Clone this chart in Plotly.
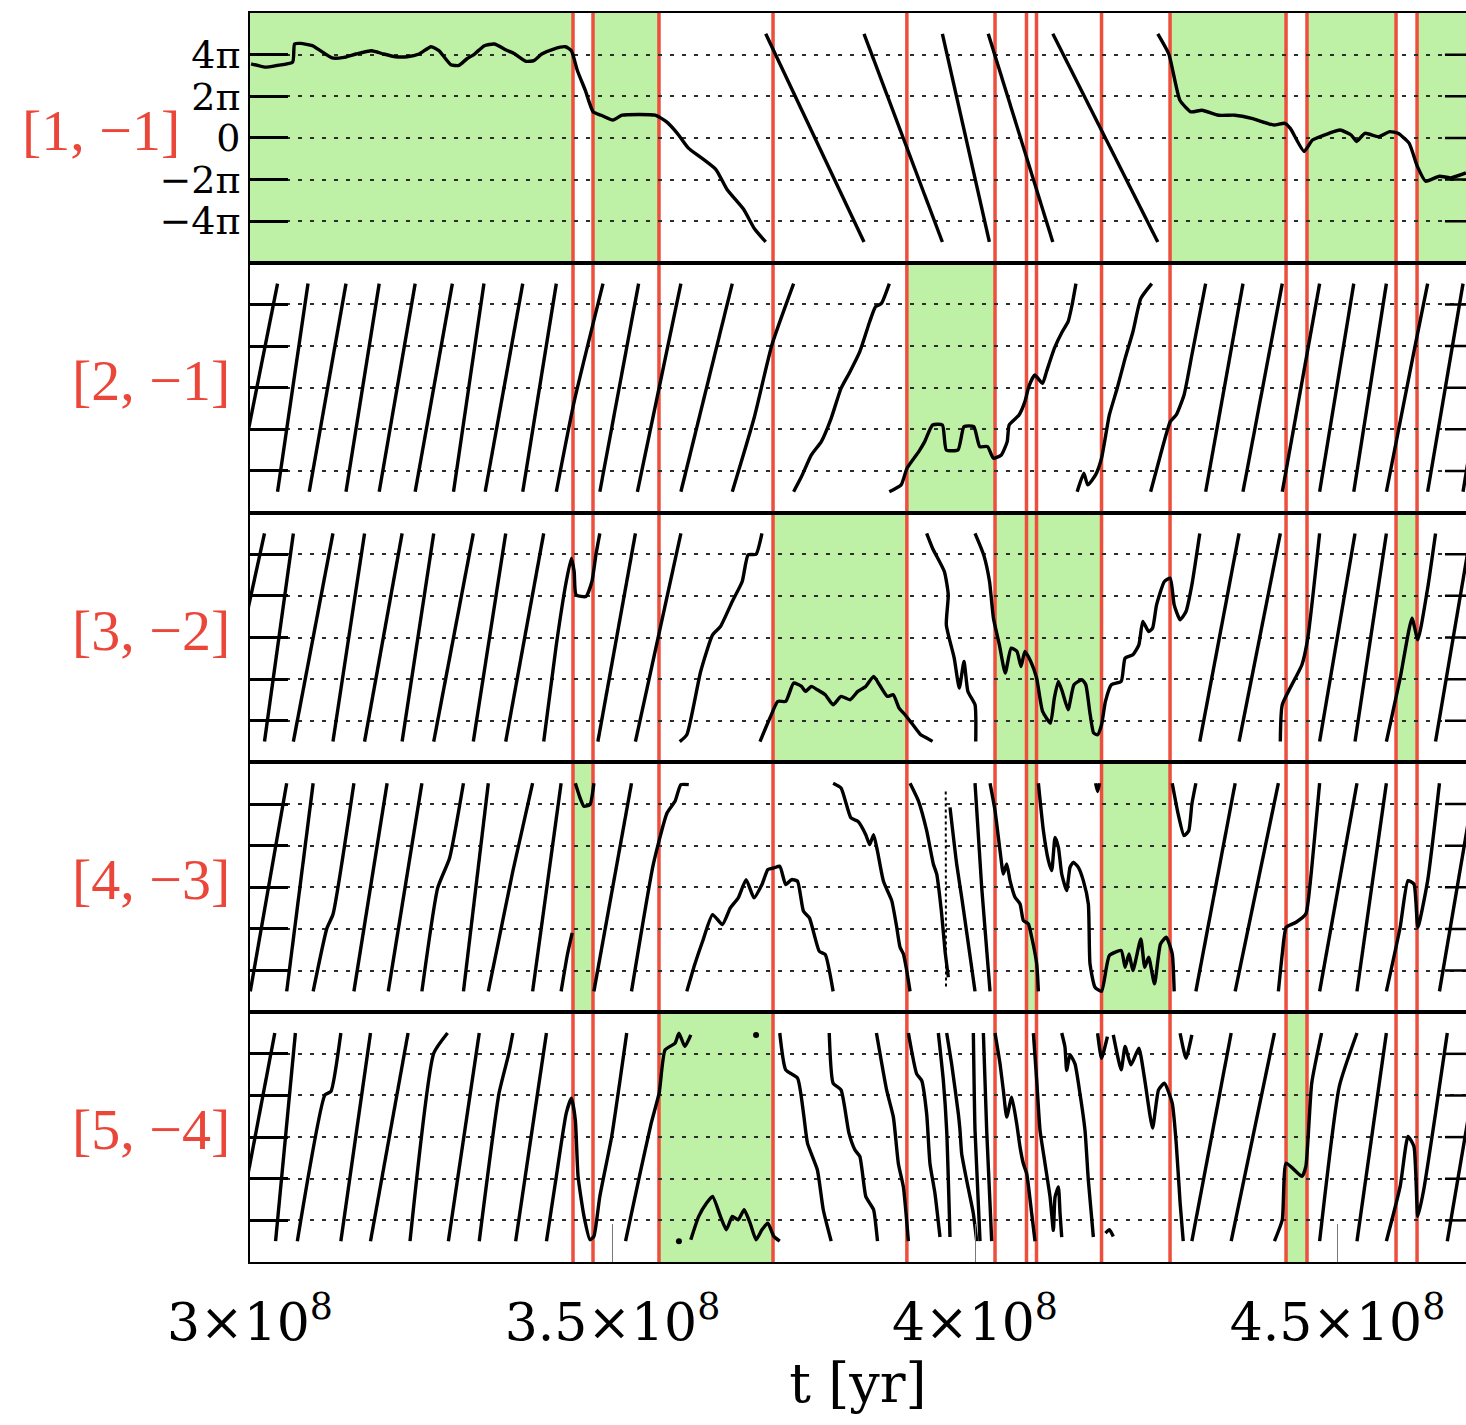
import plotly.graph_objects as go
from plotly.subplots import make_subplots

# ---------------- data (times in units of 1e8 yr, phases in units of pi) ----------------
T_UNIT = 1e8
WRAP = 5.0  # circulating phase is wrapped between -WRAP*pi and +WRAP*pi

X_RANGE = [3.0, 4.6772]
X_TICK_VALS = [3.0, 3.5, 4.0, 4.5]
X_TICK_TEXT = ["3×10<sup>8</sup>", "3.5×10<sup>8</sup>", "4×10<sup>8</sup>", "4.5×10<sup>8</sup>"]
Y_RANGE = [-6, 6]
Y_TICK_VALS = [-4, -2, 0, 2, 4]
Y_TICK_TEXT = ["−4π", "−2π", "0", "2π", "4π"]
PANEL_LABELS = ["[1, −1]", "[2, −1]", "[3, −2]", "[4, −3]", "[5, −4]"]

RED_LINES = [3.4455, 3.4731, 3.5641, 3.7214, 3.9060, 4.0276, 4.0710, 4.0848,
             4.1745, 4.2690, 4.4290, 4.4579, 4.5807, 4.6097]

GREEN_P1 = [(3.0, 3.4455), (3.4731, 3.5641), (4.2690, 4.4290), (4.4579, 4.5807), (4.6097, 4.70)]
GREEN_P2 = [(3.9060, 4.0276)]
GREEN_P3 = [(3.7214, 3.9060), (4.0276, 4.1745), (4.5807, 4.6097)]
GREEN_P4 = [(3.4455, 3.4731), (4.0710, 4.0848), (4.1745, 4.2690)]
GREEN_P5 = [(3.5641, 3.7214), (4.4290, 4.4579)]

# direction of the wrapped straight segments: -1 = descending, +1 = ascending
SAW_DIRECTION = [-1, 1, 1, 1, 1]

# ---- panel 1 : [1,-1]
P1_SAW = [(3.7113, 3.8469), (3.8469, 3.9550), (3.9550, 4.0198), (4.0182, 4.1073), (4.1073, 4.2521)]
P1_C1_T = [3.0015, 3.0206, 3.0369, 3.0588, 3.0615, 3.0697, 3.0860, 3.0970, 3.1133, 3.1297,
           3.1460, 3.1678, 3.1842, 3.2006, 3.2169, 3.2333, 3.2497, 3.2606, 3.2769, 3.2879,
           3.2988, 3.3097, 3.3233, 3.3370, 3.3533, 3.3642, 3.3806, 3.3915, 3.4024, 3.4188,
           3.4351, 3.4433, 3.4515, 3.4624, 3.4733, 3.4842, 3.5006, 3.5132, 3.5589, 3.5742,
           3.5894, 3.6047, 3.6199, 3.6427, 3.6580, 3.6808, 3.6961, 3.7113]
P1_C1_Y = [3.56, 3.40, 3.48, 3.64, 4.51, 4.54, 4.43, 4.19, 3.84, 3.87,
           4.03, 4.19, 4.03, 3.90, 3.90, 4.03, 4.38, 4.19, 3.52, 3.48,
           3.79, 4.03, 4.43, 4.51, 4.22, 4.06, 3.68, 3.71, 4.03, 4.27,
           4.38, 4.19, 3.24, 2.29, 1.25, 1.09, 0.86, 1.09, 1.09, 0.78,
           0.22, -0.49, -0.89, -1.52, -2.48, -3.43, -4.38, -5.0]
P1_C2_T = [4.2521, 4.2673, 4.2826, 4.2978, 4.3130, 4.3359, 4.3587, 4.3816, 4.4120, 4.4273,
           4.4349, 4.4539, 4.4654, 4.4882, 4.5034, 4.5187, 4.5263, 4.5377, 4.5568, 4.5720,
           4.5834, 4.5987, 4.6101, 4.6215, 4.6405, 4.6558, 4.6771]
P1_C2_Y = [5.0, 4.03, 1.81, 1.25, 1.33, 1.09, 1.09, 0.94, 0.62, 0.70,
           0.46, -0.65, -0.10, 0.22, 0.38, 0.14, -0.17, 0.22, 0.06, 0.30,
           0.22, -0.25, -1.37, -2.08, -1.84, -1.92, -1.68]
P1_CURVES = [(P1_C1_T, P1_C1_Y), (P1_C2_T, P1_C2_Y)]

# ---- panel 2 : [2,-1]
P2_SAW = [(2.9808, 3.0380), (3.0380, 3.0800), (3.0817, 3.1324), (3.1324, 3.1782), (3.1782, 3.2278),
          (3.2278, 3.2791), (3.2807, 3.3227), (3.3244, 3.3762), (3.3762, 3.4225), (3.4825, 3.5360),
          (3.5343, 3.5943), (3.5943, 3.6652), (4.3181, 4.3696), (4.3696, 4.4238), (4.4238, 4.4753),
          (4.4753, 4.5224), (4.5224, 4.5674), (4.6243, 4.6731), (4.6731, 4.7200)]
P2_CURVES = [
    ([3.4225, 3.4471, 3.4869], [-5, -0.67, 5]),
    ([3.6652, 3.6952, 3.7198, 3.7498], [-5, -1.47, 2.05, 5]),
    ([3.7498, 3.7607, 3.7743, 3.7880, 3.8016, 3.8152, 3.8276, 3.8411, 3.8547, 3.8628, 3.8709, 3.8818],
     [-5, -4.27, -3.23, -2.59, -1.47, -0.03, 0.77, 1.73, 3.17, 3.89, 4.05, 5]),
    ([3.8818, 3.8981, 3.9062, 3.9224, 3.9306, 3.9414, 3.9550, 3.9604, 3.9766, 3.9848,
      3.9983, 4.0065, 4.0173, 4.0254, 4.0363, 4.0444, 4.0471, 4.0607, 4.0688, 4.0742,
      4.0823, 4.0932, 4.0986, 4.1094, 4.1203, 4.1284, 4.1338, 4.1392],
     [-5, -4.67, -3.87, -3.07, -2.59, -1.79, -1.79, -2.99, -2.99, -1.87,
      -1.87, -2.83, -2.83, -3.39, -3.23, -2.59, -1.79, -1.31, -0.67, 0.05,
      0.61, 0.21, 0.77, 1.89, 2.69, 3.17, 3.97, 5]),
    ([4.1409, 4.1501, 4.1555, 4.1663, 4.1745, 4.1853, 4.1961, 4.2070, 4.2178, 4.2287, 4.2438],
     [-5, -4.11, -4.67, -4.19, -3.39, -1.31, -0.03, 1.41, 2.69, 4.29, 5]),
    ([4.2422, 4.2558, 4.2693, 4.2775, 4.2883, 4.2991, 4.3181], [-5, -3.23, -1.63, -1.31, -0.35, 1.57, 5]),
    ([4.5674, 4.6054, 4.6243], [-5, 1.73, 5]),
]

# ---- panel 3 : [3,-2]
P3_SAW = [(2.9573, 3.0200), (3.0200, 3.0598), (3.0598, 3.1144), (3.1144, 3.1580), (3.1580, 3.2098),
          (3.2098, 3.2534), (3.2534, 3.3080), (3.3080, 3.3527), (3.3527, 3.4051), (3.4798, 3.5316),
          (3.5316, 3.5943), (4.3100, 4.3642), (4.3642, 4.4211), (4.4753, 4.5241), (4.5241, 4.5674),
          (4.6352, 4.6840)]
P3_CURVES = [
    ([3.4051, 3.4225, 3.4362, 3.4433, 3.4471, 3.4498, 3.4634, 3.4716, 3.4771, 3.4825],
     [-5, -0.35, 2.69, 3.81, 3.17, 2.05, 1.97, 2.69, 3.97, 5]),
    ([3.5927, 3.6025, 3.6216, 3.6380, 3.6489, 3.6652, 3.6789, 3.6870, 3.6980, 3.7061],
     [-5, -4.67, -1.63, 0.13, 0.53, 1.73, 2.69, 3.97, 4.0, 5]),
    ([3.7034, 3.7171, 3.7280, 3.7389, 3.7498, 3.7607, 3.7661, 3.7743, 3.7825, 3.7934,
      3.8043, 3.8152, 3.8276, 3.8384, 3.8493, 3.8601, 3.8682, 3.8791, 3.8872, 3.8953,
      3.9035, 3.9143, 3.9251, 3.9333, 3.9414],
     [-5, -3.87, -3.07, -3.07, -2.19, -2.35, -2.59, -2.35, -2.51, -2.75,
      -3.23, -2.83, -2.99, -2.59, -2.35, -1.87, -2.27, -2.83, -2.75, -3.39,
      -3.71, -4.19, -4.67, -4.83, -4.99]),
    ([3.9333, 3.9414, 3.9577, 3.9631, 3.9604, 3.9713, 3.9783, 3.9848, 3.9902, 4.0000, 4.0010],
     [5, 4.29, 3.17, 2.05, 0.61, -0.99, -2.43, -1.15, -2.59, -3.23, -5]),
    ([4.0000, 4.0119, 4.0200, 4.0254, 4.0336, 4.0417, 4.0498, 4.0579, 4.0634, 4.0688,
      4.0769, 4.0850, 4.0932, 4.1040, 4.1094, 4.1149, 4.1203, 4.1284, 4.1365, 4.1474,
      4.1528, 4.1582, 4.1636, 4.1691, 4.1745, 4.1799, 4.1880, 4.2016, 4.2070, 4.2178,
      4.2260, 4.2314, 4.2395, 4.2449, 4.2504, 4.2612, 4.2693, 4.2747, 4.2829, 4.2910,
      4.2991, 4.3100],
     [5, 3.97, 2.69, 0.93, -0.35, -1.71, -0.51, -0.67, -1.39, -0.67,
      -1.15, -1.95, -3.55, -4.11, -2.91, -2.11, -2.59, -3.47, -2.27, -2.03,
      -2.27, -3.55, -4.59, -4.67, -4.19, -3.07, -2.27, -2.11, -0.99, -0.83,
      -0.35, 0.77, 0.29, 0.45, 1.57, 2.69, 2.85, 1.57, 0.85, 1.25,
      2.53, 5]),
    ([4.4211, 4.4238, 4.4509, 4.4590, 4.4753], [-5, -3.23, -1.31, -0.03, 5]),
    ([4.5674, 4.5864, 4.6027, 4.6108, 4.6243, 4.6352], [-5, -1.95, 0.93, -0.11, 2.37, 5]),
]

# ---- panel 4 : [4,-3]
P4_SAW = [(3.0004, 3.0506), (3.0506, 3.0871), (3.1433, 3.1891), (3.1907, 3.2371), (3.2944, 3.3287),
          (3.3898, 3.4291), (3.4743, 3.5262), (4.3046, 4.3588), (4.3588, 4.4184), (4.4753, 4.5268),
          (4.5268, 4.5674), (4.6406, 4.6894)]
P4_CURVES = [
    ([3.0871, 3.1062, 3.1144, 3.1433], [-5, -1.95, -1.31, 5]),
    ([3.2371, 3.2589, 3.2753, 3.2944], [-5, -0.03, 1.41, 5]),
    ([3.3287, 3.3625, 3.3898], [-5, 0.77, 5]),
    ([3.4291, 3.4378, 3.4444], [-5, -3.23, -2.19]),
    ([3.4487, 3.4553, 3.4607, 3.4689, 3.4743], [5, 4.29, 3.89, 3.97, 5]),
    ([3.5262, 3.5562, 3.5752, 3.5862, 3.5943, 3.6052], [-5, 1.09, 3.57, 4.13, 4.93, 4.93]),
    ([3.6025, 3.6134, 3.6243, 3.6380, 3.6516, 3.6625, 3.6734, 3.6843, 3.6952, 3.7061,
      3.7143, 3.7225, 3.7307, 3.7389, 3.7470, 3.7552, 3.7634, 3.7716, 3.7852, 3.7934, 3.8043],
     [-5, -3.71, -2.59, -1.31, -1.79, -0.99, -0.51, 0.37, -0.51, 0.13,
      0.85, 0.93, 1.01, 0.13, 0.37, 0.29, -1.15, -1.47, -3.07, -3.23, -5]),
    ([3.8043, 3.8152, 3.8289, 3.8384, 3.8493, 3.8547, 3.8601, 3.8655, 3.8737, 3.8851,
      3.8920, 3.8966, 3.9012, 3.9058, 3.9104],
     [5, 4.77, 3.33, 3.17, 2.53, 2.05, 2.53, 1.73, 0.29, -0.64,
      -1.92, -2.88, -3.2, -4.0, -5]),
    ([3.9104, 3.9218, 3.9333, 3.9425, 3.9471, 3.9540, 3.9586, 3.9632],
     [5, 4.16, 2.72, 1.12, 0.64, -1.28, -3.04, -4.32]),
    ([3.9655, 3.9747, 3.9816, 3.9862, 3.9908, 4.0000], [3.84, 1.12, -0.48, -1.6, -2.72, -5]),
    ([4.0000, 4.0092, 4.0207], [5, 0.0, -5]),
    ([4.0207, 4.0276, 4.0345, 4.0391, 4.0437, 4.0483, 4.0552, 4.0621, 4.0667, 4.0736,
      4.0782, 4.0851, 4.0874],
     [5, 3.68, 1.76, 0.64, 1.12, 0.32, -0.48, -0.80, -1.60, -1.76, -2.40, -3.68, -5]),
    ([4.0874, 4.0943, 4.1012, 4.1058, 4.1104, 4.1150, 4.1196, 4.1264, 4.1310, 4.1356,
      4.1425, 4.1494, 4.1563, 4.1586, 4.1655, 4.1745, 4.1853, 4.2016, 4.2070, 4.2124,
      4.2178, 4.2287, 4.2341, 4.2395, 4.2476, 4.2558, 4.2639, 4.2720, 4.2747],
     [5, 2.72, 1.28, 0.80, 2.40, 1.92, 0.64, -0.16, 0.96, 1.20,
      0.96, 0.32, -0.80, -3.68, -4.80, -5.0, -3.28, -3.04, -3.84, -3.20,
      -4.0, -2.48, -3.84, -3.36, -4.64, -2.72, -2.40, -3.20, -5.0]),
    ([4.2720, 4.2802, 4.2883, 4.2948, 4.2991, 4.3046], [5, 3.52, 2.48, 2.72, 4.0, 5]),
    ([4.4184, 4.4238, 4.4292, 4.4428, 4.4563, 4.4617, 4.4753], [-5, -3.2, -1.92, -1.68, -1.28, 0.0, 5]),
    ([4.5674, 4.5864, 4.5972, 4.6054, 4.6108, 4.6243, 4.6406], [-5, -1.92, 0.32, 0.16, -1.92, 0.32, 5]),
    ([4.1663, 4.1691, 4.1718], [5, 4.6, 5]),
]
P4_DOTTED = ([3.9596, 3.9600], [4.6, -4.8])

# ---- panel 5 : [5,-4]
P5_SAW = [(2.9797, 3.0342), (3.0353, 3.0626), (3.1253, 3.1662), (3.1662, 3.2180), (3.2736, 3.3162),
          (3.3664, 3.4089), (4.2991, 4.3533), (4.3533, 4.4130), (4.5268, 4.5674), (4.6514, 4.7002)]
P5_CURVES = [
    ([3.0653, 3.1035, 3.1116, 3.1253], [-5, 2.03, 2.19, 5]),
    ([3.2207, 3.2535, 3.2725], [-5, 4.03, 5]),
    ([3.3162, 3.3435, 3.3571, 3.3625], [-5, 2.11, 4.03, 5]),
    ([3.4089, 3.4225, 3.4362, 3.4433, 3.4487, 3.4525, 3.4607, 3.4689, 3.4743, 3.4825,
      3.4989, 3.5098, 3.5196],
     [-5, -1.89, 1.15, 1.87, 0.83, -1.89, -3.81, -4.93, -4.77, -2.85, 0.03, 2.59, 5]),
    ([3.5180, 3.5371, 3.5534, 3.5643, 3.5725, 3.5862, 3.5916, 3.5998, 3.6080],
     [-5, -1.89, 0.67, 2.11, 4.19, 4.51, 4.99, 4.35, 4.91]),
    ([3.6080, 3.6189, 3.6298, 3.6380, 3.6489, 3.6571, 3.6652, 3.6734, 3.6816, 3.6898,
      3.6980, 3.7061, 3.7143, 3.7225, 3.7307],
     [-4.93, -3.81, -3.17, -2.85, -3.81, -4.45, -3.81, -3.97, -3.49, -4.13,
      -4.93, -4.45, -4.13, -4.77, -5.0]),
    ([3.7307, 3.7389, 3.7552, 3.7634, 3.7689, 3.7825, 3.7907, 3.8016],
     [5, 3.23, 2.83, 1.15, -0.29, -1.57, -3.49, -5]),
    ([3.7989, 3.8043, 3.8152, 3.8261, 3.8343, 3.8411, 3.8493, 3.8547, 3.8601, 3.8655],
     [5, 2.59, 2.27, 0.19, -0.61, -0.93, -2.85, -3.17, -3.49, -5]),
    ([3.8640, 3.8782, 3.8874, 3.8943, 3.9012, 3.9081], [5, 2.24, 0.96, -1.28, -2.4, -5]),
    ([3.9081, 3.9195, 3.9264, 3.9333, 3.9379, 3.9448, 3.9517], [5, 3.04, 2.72, 1.12, -1.28, -2.72, -4.8]),
    ([3.9494, 3.9563, 3.9609, 3.9655], [5, 2.72, 0.32, -4.8]),
    ([3.9609, 3.9677, 3.9770, 3.9793, 3.9816, 3.9885, 3.9977, 4.0023],
     [5, 3.52, 1.12, 0.32, -0.8, -2.08, -3.68, -5]),
    ([3.9977, 4.0000, 4.0069], [5, 0.32, -5]),
    ([4.0115, 4.0161, 4.0230], [5, 0.32, -5]),
    ([4.0276, 4.0345, 4.0391, 4.0437, 4.0506, 4.0575, 4.0621, 4.0667, 4.0713, 4.0782, 4.0828],
     [5, 3.52, 2.24, 0.96, 1.92, 0.64, -0.48, -1.28, -1.76, -3.68, -5]),
    ([4.0805, 4.0851, 4.0897, 4.0966, 4.1035, 4.1081, 4.1104, 4.1150, 4.1173, 4.1196],
     [5, 2.72, 0.32, -1.28, -2.88, -4.48, -2.88, -2.4, -3.68, -4.8]),
    ([4.1196, 4.1241, 4.1264, 4.1310, 4.1379, 4.1448, 4.1517, 4.1563, 4.1632],
     [5, 4.32, 3.2, 3.96, 3.52, 2.08, 0.32, -2.08, -4.8]),
    ([4.1799, 4.1853, 4.1907], [-4.61, -4.45, -4.77]),
    ([4.1691, 4.1745, 4.1826], [4.99, 3.79, 4.83]),
    ([4.1907, 4.2016, 4.2070, 4.2151, 4.2260, 4.2341, 4.2449, 4.2531, 4.2612, 4.2720,
      4.2775, 4.2829, 4.2872],
     [4.91, 3.23, 4.35, 3.47, 4.27, 2.75, 0.43, 2.27, 2.59, 1.63, -0.29, -3.17, -5]),
    ([4.2829, 4.2910, 4.2991], [4.99, 3.79, 4.91]),
    ([4.4130, 4.4238, 4.4292, 4.4509, 4.4563, 4.4644, 4.4780], [-5, -3.97, -1.25, -1.89, -1.41, 2.59, 5]),
    ([4.4753, 4.5024, 4.5268], [-5, 2.43, 5]),
    ([4.5674, 4.5864, 4.5972, 4.6054, 4.6108, 4.6189, 4.6352, 4.6514],
     [-5, -2.37, 0.03, -0.45, -3.81, -2.53, 1.15, 5]),
]
P5_DOTS = ([3.5916, 3.6980], [-5.0, 4.91])

PANELS = [
    (P1_SAW, P1_CURVES, GREEN_P1),
    (P2_SAW, P2_CURVES, GREEN_P2),
    (P3_SAW, P3_CURVES, GREEN_P3),
    (P4_SAW, P4_CURVES, GREEN_P4),
    (P5_SAW, P5_CURVES, GREEN_P5),
]

# ---------------- styling ----------------
RED = "rgb(238,78,60)"
LABEL_RED = "rgb(235,70,58)"
GREEN = "rgb(190,240,166)"
SERIF = "Liberation Serif"
WIDE_SERIF = "DejaVu Serif"

fig = make_subplots(rows=5, cols=1, shared_xaxes=True, vertical_spacing=0)


def build(saws, curves, direction):
    xs, ys = [], []
    y0, y1 = (-WRAP, WRAP) if direction > 0 else (WRAP, -WRAP)
    for a, b in saws:
        xs += [a * T_UNIT, b * T_UNIT, None]
        ys += [y0, y1, None]
    for ct, cy in curves:
        xs += [t * T_UNIT for t in ct] + [None]
        ys += list(cy) + [None]
    return xs, ys


for i, (saws, curves, greens) in enumerate(PANELS):
    row = i + 1
    xs, ys = build(saws, curves, SAW_DIRECTION[i])
    fig.add_trace(go.Scatter(x=xs, y=ys, mode="lines",
                             line=dict(color="black", width=3.4, shape="spline", smoothing=0.5),
                             connectgaps=False, showlegend=False, hoverinfo="skip"), row=row, col=1)
    yref = "y domain" if row == 1 else f"y{row} domain"
    for a, b in greens:
        fig.add_shape(type="rect", xref="x", yref=yref, x0=a * T_UNIT, x1=b * T_UNIT, y0=0, y1=1,
                      fillcolor=GREEN, line=dict(width=0), layer="below")
    ydata = "y" if row == 1 else f"y{row}"
    for v in Y_TICK_VALS:
        fig.add_shape(type="line", xref="paper", yref=ydata, x0=0.9827, x1=1.0, y0=v, y1=v,
                      line=dict(color="black", width=2.5), layer="above")
    fig.add_annotation(text=PANEL_LABELS[i], xref="paper", yref=yref,
                       x=-0.0559 if row == 1 else -0.0148, y=0.53,
                       xanchor="right", yanchor="middle", showarrow=False,
                       font=dict(family=SERIF, size=58, color=LABEL_RED))

fig.add_trace(go.Scatter(x=[t * T_UNIT for t in P4_DOTTED[0]], y=P4_DOTTED[1], mode="lines",
                         line=dict(color="black", width=2, dash="dot"), showlegend=False,
                         hoverinfo="skip"), row=4, col=1)
fig.add_trace(go.Scatter(x=[t * T_UNIT for t in P5_DOTS[0]], y=P5_DOTS[1], mode="markers",
                         marker=dict(color="black", size=6), showlegend=False,
                         hoverinfo="skip"), row=5, col=1)

for t in RED_LINES:
    fig.add_shape(type="line", xref="x", yref="paper", x0=t * T_UNIT, x1=t * T_UNIT, y0=0, y1=1,
                  line=dict(color=RED, width=3.5), layer="between")

for row in range(1, 6):
    fig.update_yaxes(row=row, col=1, range=Y_RANGE, tickmode="array", tickvals=Y_TICK_VALS,
                     ticktext=Y_TICK_TEXT, showticklabels=(row == 1),
                     ticks="inside", ticklen=38, tickwidth=2.5, tickcolor="black",
                     tickfont=dict(family=WIDE_SERIF, size=38, color="black"),
                     showgrid=True, gridcolor="rgb(45,45,45)", gridwidth=2.4, griddash="4px,8px",
                     zeroline=False, showline=True, linecolor="black", linewidth=2, mirror=False)
    fig.update_xaxes(row=row, col=1, range=[X_RANGE[0] * T_UNIT, X_RANGE[1] * T_UNIT],
                     showgrid=False, zeroline=False, showline=True, linecolor="black",
                     linewidth=2, mirror=True,
                     tickmode="array", tickvals=[v * T_UNIT for v in X_TICK_VALS],
                     ticktext=X_TICK_TEXT,
                     ticks="inside" if row == 5 else "", ticklen=38, tickwidth=1,
                     tickcolor="rgb(120,120,120)", showticklabels=(row == 5),
                     tickfont=dict(family=WIDE_SERIF, size=52, color="black"))

fig.update_xaxes(row=5, col=1, ticklabelstandoff=14,
                 title=dict(text="t [yr]", font=dict(family=WIDE_SERIF, size=54, color="black"),
                            standoff=6))

fig.update_layout(width=1466, height=1425, margin=dict(l=250, r=0, t=13, b=163),
                  paper_bgcolor="white", plot_bgcolor="white", showlegend=False)

fig.write_html("out.html")
